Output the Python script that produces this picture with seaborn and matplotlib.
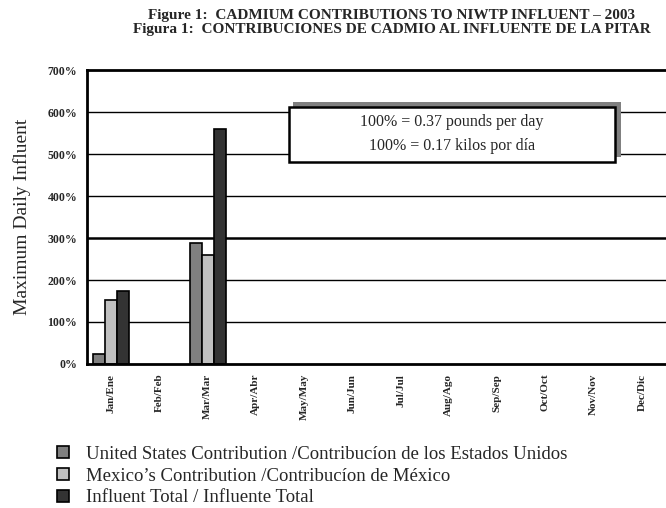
import pandas as pd
import seaborn as sns
import matplotlib
matplotlib.use("Agg")
import matplotlib.pyplot as plt
from matplotlib.patches import Patch, Rectangle

months = ['Jan/Ene', 'Feb/Feb', 'Mar/Mar', 'Apr/Abr', 'May/May', 'Jun/Jun',
          'Jul/Jul', 'Aug/Ago', 'Sep/Sep', 'Oct/Oct', 'Nov/Nov', 'Dec/Dic']
series = ['United States Contribution /Contribucíon de los Estados Unidos',
          'Mexico\u2019s Contribution /Contribucíon de México',
          'Influent Total / Influente Total']
data_months = ['Jan/Ene', 'Mar/Mar']
us_vals = [23, 287]
mx_vals = [152, 260]
total_vals = [175, 560]
colors = ['#808080', '#c0c0c0', '#333333']
yticks = [0, 100, 200, 300, 400, 500, 600, 700]

rows = []
for s, vals in zip(series, [us_vals, mx_vals, total_vals]):
    for m, v in zip(data_months, vals):
        rows.append({'month': m, 'series': s, 'value': v})
df = pd.DataFrame(rows)

sns.set_style('white')
plt.rcParams['font.family'] = ['Liberation Serif', 'DejaVu Serif']

fig = plt.figure(figsize=(6.66, 5.08), dpi=100)
ax = fig.add_axes([0.1306, 0.2835, 0.8694, 0.5785])

sns.barplot(data=df, x='month', y='value', hue='series', order=months,
            hue_order=series, palette=colors, width=0.75, dodge=True,
            edgecolor='black', linewidth=1.2, errorbar=None, legend=False, ax=ax)

ax.set_xlim(-0.5, 11.5)
ax.set_ylim(0, 700)
ax.set_yticks(yticks)
ax.set_yticklabels([f'{v}%' for v in yticks], fontsize=8.5, fontweight='bold')
for v in yticks[1:-1]:
    ax.axhline(v, color='black', lw=1.8 if v == 300 else 1.0, zorder=0)

ax.set_xticks(range(12))
ax.set_xticklabels(months, rotation=90, fontsize=8, fontweight='bold')
ax.set_xticks([i - 0.5 for i in range(13)], minor=True)
ax.tick_params(axis='x', which='major', length=0, pad=7)
ax.tick_params(axis='x', which='minor', length=4, width=1.5, direction='out', color='black')
ax.tick_params(axis='y', length=4, width=1.2, direction='out', color='black', pad=3)
ax.set_xlabel('')
ax.set_ylabel('Maximum Daily Influent', fontsize=14, labelpad=12)

for side in ['left', 'bottom', 'top']:
    ax.spines[side].set_linewidth(2)
    ax.spines[side].set_color('black')
ax.spines['right'].set_visible(False)

# note box with shadow
ax.add_patch(Rectangle((0.356, 0.704), 0.566, 0.187, transform=ax.transAxes,
                       facecolor='#808080', edgecolor='none', zorder=4))
ax.add_patch(Rectangle((0.349, 0.687), 0.563, 0.187, transform=ax.transAxes,
                       facecolor='white', edgecolor='black', lw=1.8, zorder=5))
ax.text(0.6305, 0.822, '100% = 0.37 pounds per day', transform=ax.transAxes,
        ha='center', va='center', fontsize=11.5, zorder=6)
ax.text(0.6305, 0.742, '100% = 0.17 kilos por día', transform=ax.transAxes,
        ha='center', va='center', fontsize=11.5, zorder=6)

fig.text(0.588, 0.970, 'Figure 1:  CADMIUM CONTRIBUTIONS TO NIWTP INFLUENT \u2013 2003',
         ha='center', va='center', fontsize=11, fontweight='bold')
fig.text(0.588, 0.942, 'Figura 1:  CONTRIBUCIONES DE CADMIO AL INFLUENTE DE LA PITAR',
         ha='center', va='center', fontsize=11, fontweight='bold')

handles = [Patch(facecolor=c, edgecolor='black', lw=1.2) for c in colors]
fig.legend(handles, series, loc='upper left', bbox_to_anchor=(0.075, 0.137),
           frameon=False, fontsize=13.5, handlelength=0.6, handleheight=0.6,
           handletextpad=0.9, labelspacing=0.25, borderaxespad=0)

fig.savefig('out.png', dpi=100)
